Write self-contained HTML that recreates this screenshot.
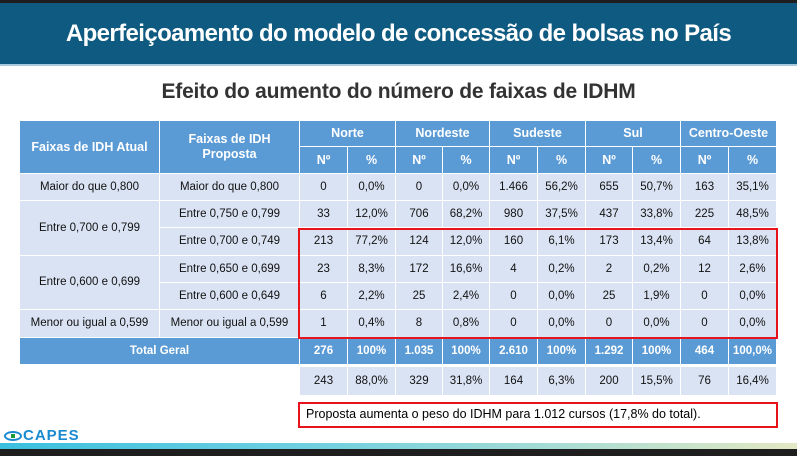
<!DOCTYPE html>
<html><head><meta charset="utf-8"><style>
*{margin:0;padding:0;box-sizing:border-box}
body{width:797px;height:456px;position:relative;background:#fff;font-family:"Liberation Sans",sans-serif;overflow:hidden}
.c{position:absolute;display:flex;align-items:center;justify-content:center;text-align:center;font-size:11.5px;color:#111;border-right:1.5px solid #fff;border-bottom:1.5px solid #fff;line-height:15px}
.h{background:#5b9bd5;color:#fff;font-weight:bold;font-size:12.5px}
.d{background:#dae3f3}
.t{background:#5b9bd5;color:#fff;font-weight:bold}
</style></head><body>
<div style="position:absolute;left:0;top:0;width:797px;height:3px;background:#1e1e1e"></div>
<div style="position:absolute;left:0;top:3px;width:797px;height:61px;background:#0e5a80;color:#fff;font-size:24px;font-weight:bold;display:flex;align-items:center;justify-content:center;letter-spacing:-0.6px">Aperfeiçoamento do modelo de concessão de bolsas no País</div>
<div style="position:absolute;left:0;top:64px;width:797px;height:2px;background:#a9c9dc"></div>
<div style="position:absolute;left:0;top:80px;width:797px;text-align:center;font-size:21px;font-weight:bold;color:#333;letter-spacing:-0.2px">Efeito do aumento do número de faixas de IDHM</div>
<div id="t"></div>
<div style="position:absolute;left:298px;top:228px;width:480px;height:111px;border:2.5px solid #e8141b"></div>
<div style="position:absolute;left:298px;top:402px;width:480px;height:26px;border:2.5px solid #e8141b;font-size:12.5px;padding-left:6px;line-height:21px">Proposta aumenta o peso do IDHM para 1.012 cursos (17,8% do total).</div>
<div style="position:absolute;left:4px;top:427px;font-size:15px;font-weight:bold;color:#1a8ad0;letter-spacing:1px"><span style="display:inline-block;width:18px;height:10px;border:2px solid #1a8ad0;border-radius:50%;position:relative;top:1px;margin-right:1px"><span style="position:absolute;left:5px;top:1px;width:4px;height:4px;background:#1c9a3a"></span></span>CAPES</div>
<div style="position:absolute;left:0;top:443px;width:797px;height:6px;background:linear-gradient(90deg,#3bbfdf,#71d0e0 40%,#a7dcd4 70%,#e4e8c2)"></div>
<div style="position:absolute;left:0;top:449px;width:797px;height:7px;background:#1e1e1e"></div>
<script>
var X=[20,160,300,348,396,443,490,538,586,633,681,729,777];
var Y=[121,147,174,201,228,256,283,310,338,365];
var h='';
function cell(x1,y1,x2,y2,cls,txt){h+='<div class="c '+cls+'" style="left:'+x1+'px;top:'+y1+'px;width:'+(x2-x1)+'px;height:'+(y2-y1)+'px">'+txt+'</div>';}
cell(X[0],Y[0],X[1],Y[2],'h','Faixas de IDH Atual');
cell(X[1],Y[0],X[2],Y[2],'h','Faixas de IDH<br>Proposta');
var reg=['Norte','Nordeste','Sudeste','Sul','Centro-Oeste'];
for(var i=0;i<5;i++){cell(X[2+2*i],Y[0],X[4+2*i],Y[1],'h',reg[i]);cell(X[2+2*i],Y[1],X[3+2*i],Y[2],'h','Nº');cell(X[3+2*i],Y[1],X[4+2*i],Y[2],'h','%');}
cell(X[0],Y[2],X[1],Y[3],'d','Maior do que 0,800');
cell(X[0],Y[3],X[1],Y[5],'d','Entre 0,700 e 0,799');
cell(X[0],Y[5],X[1],Y[7],'d','Entre 0,600 e 0,699');
cell(X[0],Y[7],X[1],Y[8],'d','Menor ou igual a 0,599');
var p=['Maior do que 0,800','Entre 0,750 e 0,799','Entre 0,700 e 0,749','Entre 0,650 e 0,699','Entre 0,600 e 0,649','Menor ou igual a 0,599'];
var D=[['0','0,0%','0','0,0%','1.466','56,2%','655','50,7%','163','35,1%'],
['33','12,0%','706','68,2%','980','37,5%','437','33,8%','225','48,5%'],
['213','77,2%','124','12,0%','160','6,1%','173','13,4%','64','13,8%'],
['23','8,3%','172','16,6%','4','0,2%','2','0,2%','12','2,6%'],
['6','2,2%','25','2,4%','0','0,0%','25','1,9%','0','0,0%'],
['1','0,4%','8','0,8%','0','0,0%','0','0,0%','0','0,0%']];
for(var r=0;r<6;r++){cell(X[1],Y[2+r],X[2],Y[3+r],'d',p[r]);for(var k=0;k<10;k++)cell(X[2+k],Y[2+r],X[3+k],Y[3+r],'d',D[r][k]);}
cell(X[0],Y[8],X[2],Y[9],'t','Total Geral');
var T=['276','100%','1.035','100%','2.610','100%','1.292','100%','464','100,0%'];
var L=['243','88,0%','329','31,8%','164','6,3%','200','15,5%','76','16,4%'];
for(var k=0;k<10;k++){cell(X[2+k],Y[8],X[3+k],Y[9],'t',T[k]);cell(X[2+k],367,X[3+k],396,'d',L[k]);}
document.getElementById('t').innerHTML=h;
</script>
</body></html>
